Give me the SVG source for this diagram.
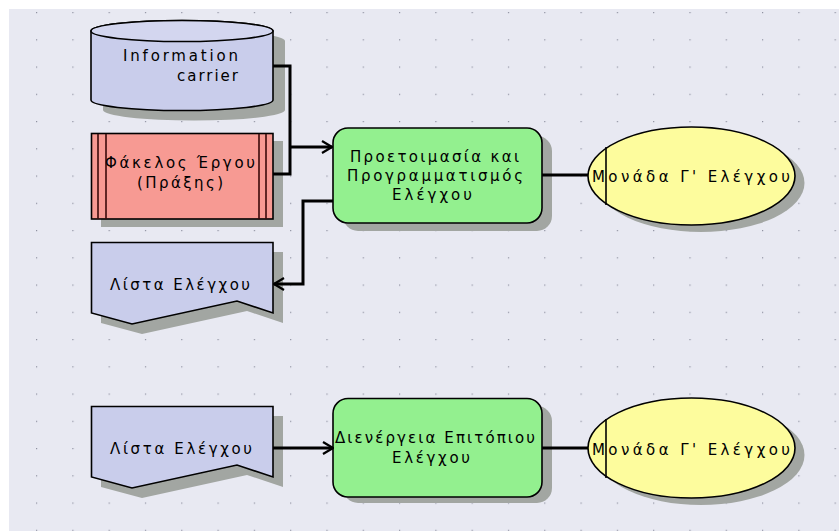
<svg xmlns="http://www.w3.org/2000/svg" width="839" height="531" viewBox="0 0 839 531">
  <defs>
    <pattern id="grid" x="36" y="12" width="36.3" height="27.25" patternUnits="userSpaceOnUse">
      <rect x="0" y="0" width="1.2" height="1.2" fill="#8e90a0"/>
    </pattern>
    <marker id="arrow" viewBox="0 0 12 14" refX="11" refY="7" markerWidth="12" markerHeight="14" markerUnits="userSpaceOnUse" orient="auto">
      <path d="M1,1 L11,7 L1,13" fill="none" stroke="#000" stroke-width="2.2"/>
    </marker>
  </defs>
  <style>
    .shadow { fill: #a2a6a2; }
    .outline { stroke: #000; stroke-width: 1.6; }
    .store { fill: #c9cdeb; }
    .cap { fill: #d3d6ef; }
    .folder { fill: #f79a93; }
    .process { fill: #93f08f; }
    .unit { fill: #fdfc9d; }
    .lbl { font-family: "DejaVu Sans", "Liberation Sans", Arial, sans-serif; font-size: 15px; fill: #000; }
    .conn { fill: none; stroke: #000; stroke-width: 3; }
  </style>

  <!-- canvas with dotted grid -->
  <rect x="0" y="0" width="839" height="531" fill="#ffffff"/>
  <rect x="9" y="9" width="830" height="522" fill="#e8e9f2"/>
  <rect x="9" y="9" width="830" height="522" fill="url(#grid)"/>

  <!-- data store: Information carrier -->
  <g id="information-carrier">
    <path class="shadow" d="M103,41 A91,10.5 0 0 1 285,41 L285,110 A91,10.5 0 0 1 103,110 Z"/>
    <path class="store outline" d="M91,31 A91,10.5 0 0 1 273,31 L273,100 A91,10.5 0 0 1 91,100 Z"/>
    <ellipse class="cap outline" cx="182" cy="31" rx="91" ry="10.5"/>
    <text class="lbl" x="123" y="61" textLength="115" lengthAdjust="spacing">Information</text>
    <text class="lbl" x="177" y="81" textLength="61" lengthAdjust="spacing">carrier</text>
  </g>

  <!-- project file -->
  <g id="project-file">
    <rect class="shadow" x="101" y="141" width="182" height="86"/>
    <rect class="folder outline" x="91.5" y="133.5" width="181.5" height="85.5"/>
    <g stroke="#3a0a0a" stroke-width="1.6">
      <line x1="98" y1="134" x2="98" y2="219"/>
      <line x1="106" y1="134" x2="106" y2="219"/>
      <line x1="259" y1="134" x2="259" y2="219"/>
      <line x1="266" y1="134" x2="266" y2="219"/>
    </g>
    <text class="lbl" x="105" y="168" textLength="150" lengthAdjust="spacing">Φάκελος Έργου</text>
    <text class="lbl" x="137" y="188" textLength="86" lengthAdjust="spacing">(Πράξης)</text>
  </g>

  <!-- checklist document (output) -->
  <g id="checklist-1">
    <path class="shadow" d="M101,252 H283 V323 L247,311 L142,334 L101,323 Z"/>
    <path class="store outline" d="M91.5,242.5 H273 V313 L237,301 L132,324 L91.5,313 Z"/>
    <text class="lbl" x="110" y="290" textLength="140" lengthAdjust="spacing">Λίστα Ελέγχου</text>
  </g>

  <!-- process: preparation and planning -->
  <g id="preparation">
    <rect class="shadow" x="343" y="136" width="209" height="95" rx="15"/>
    <rect class="process outline" x="333" y="128" width="209" height="95" rx="15"/>
    <text class="lbl" x="350" y="162" textLength="169" lengthAdjust="spacing">Προετοιμασία και</text>
    <text class="lbl" x="347" y="181" textLength="176" lengthAdjust="spacing">Προγραμματισμός</text>
    <text class="lbl" x="392" y="200" textLength="80" lengthAdjust="spacing">Ελέγχου</text>
  </g>

  <!-- organisational unit (top) -->
  <g id="unit-1">
    <ellipse class="shadow" cx="701" cy="183" rx="103.5" ry="49"/>
    <ellipse class="unit outline" cx="691.5" cy="176" rx="103.5" ry="49"/>
    <line x1="606" y1="147" x2="606" y2="205" stroke="#000" stroke-width="1.6"/>
    <text class="lbl" x="592" y="182" textLength="198" lengthAdjust="spacing">Μονάδα Γ' Ελέγχου</text>
  </g>

  <!-- checklist document (input) -->
  <g id="checklist-2">
    <path class="shadow" d="M101,416 H283 V487 L247,475 L142,498 L101,487 Z"/>
    <path class="store outline" d="M91.5,406.5 H273 V477 L237,465 L132,488 L91.5,477 Z"/>
    <text class="lbl" x="110" y="454" textLength="142" lengthAdjust="spacing">Λίστα Ελέγχου</text>
  </g>

  <!-- process: on-site inspection -->
  <g id="onsite-inspection">
    <rect class="shadow" x="343" y="406" width="209" height="97" rx="15"/>
    <rect class="process outline" x="333" y="398.5" width="209" height="98.5" rx="15"/>
    <text class="lbl" x="335" y="443" textLength="200" lengthAdjust="spacing">Διενέργεια Επιτόπιου</text>
    <text class="lbl" x="392" y="463" textLength="78" lengthAdjust="spacing">Ελέγχου</text>
  </g>

  <!-- organisational unit (bottom) -->
  <g id="unit-2">
    <ellipse class="shadow" cx="701" cy="455" rx="103.5" ry="50"/>
    <ellipse class="unit outline" cx="691.5" cy="448" rx="103.5" ry="50"/>
    <line x1="606" y1="419" x2="606" y2="478" stroke="#000" stroke-width="1.6"/>
    <text class="lbl" x="592" y="455" textLength="198" lengthAdjust="spacing">Μονάδα Γ' Ελέγχου</text>
  </g>

  <!-- connectors, drawn over node shadows -->
  <g id="connectors">
    <path class="conn" d="M273,66 H290 V174 H273"/>
    <path class="conn" d="M290,147 H332" marker-end="url(#arrow)"/>
    <path class="conn" d="M333,201 H303 V284 H274" marker-end="url(#arrow)"/>
    <path class="conn" d="M542,175 H588"/>
    <path class="conn" d="M273,448 H333" marker-end="url(#arrow)"/>
    <path class="conn" d="M542,448 H588"/>
  </g>
</svg>
